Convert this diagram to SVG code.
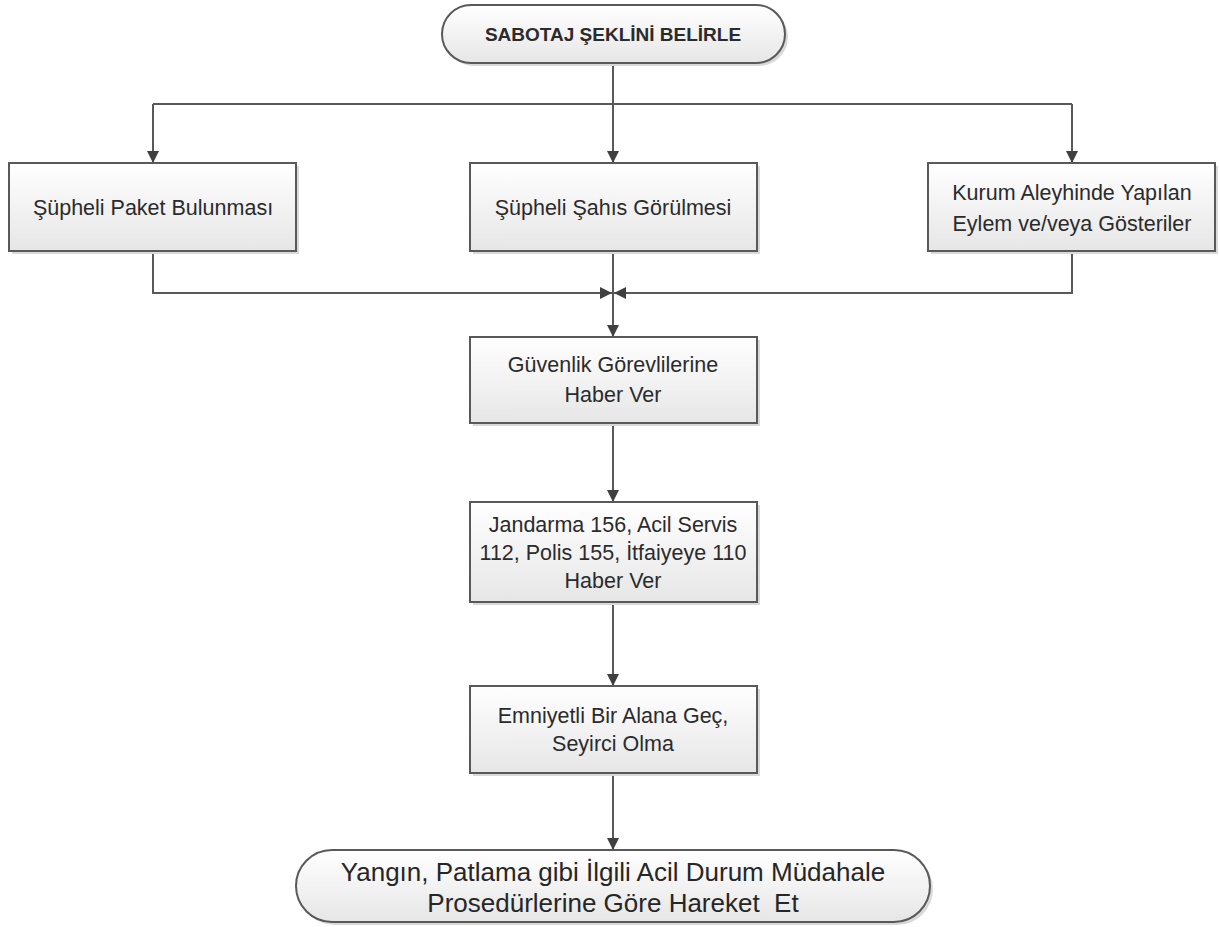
<svg xmlns="http://www.w3.org/2000/svg" width="1220" height="927" viewBox="0 0 1220 927">
<style>
.box{fill:url(#g);stroke:#595959;stroke-width:2}
.sh{fill:#d9d9d9}
.t{font-family:"Liberation Sans",Arial,sans-serif;font-size:21.5px;fill:#2b2b2b;text-anchor:middle}
.tb{font-family:"Liberation Sans",Arial,sans-serif;font-size:19px;font-weight:bold;fill:#2b2b2b;text-anchor:middle}
.tl{font-family:"Liberation Sans",Arial,sans-serif;font-size:26px;fill:#262626;text-anchor:middle}
.c{fill:none;stroke:#595959;stroke-width:2}
</style>
<defs>
<linearGradient id="g" x1="0" y1="0" x2="0" y2="1">
<stop offset="0" stop-color="#ffffff"/>
<stop offset="1" stop-color="#e6e6e6"/>
</linearGradient>
<marker id="a" viewBox="0 0 12 12" refX="12" refY="6" markerWidth="12" markerHeight="12" markerUnits="userSpaceOnUse" orient="auto">
<path d="M0,0 L12,6 L0,12 Z" fill="#404040"/>
</marker>
</defs>
<rect width="1220" height="927" fill="#fff"/>
<g id="connectors">
<path class="c" d="M613,63 V104"/>
<path class="c" d="M153,104 H1072"/>
<path class="c" d="M153,104 V163" marker-end="url(#a)"/>
<path class="c" d="M613,104 V163" marker-end="url(#a)"/>
<path class="c" d="M1072,104 V163" marker-end="url(#a)"/>
<path class="c" d="M153,251 V293 H612" marker-end="url(#a)"/>
<path class="c" d="M1072,251 V293 H614" marker-end="url(#a)"/>
<path class="c" d="M613,251 V337" marker-end="url(#a)"/>
<path class="c" d="M613,423 V502" marker-end="url(#a)"/>
<path class="c" d="M613,602 V686" marker-end="url(#a)"/>
<path class="c" d="M613,773 V850" marker-end="url(#a)"/>
</g>
<g id="start">
<rect class="sh" x="445" y="8" width="343" height="58" rx="29"/>
<rect class="box" x="442" y="5" width="343" height="58" rx="29"/>
<text class="tb" x="613" y="41">SABOTAJ ŞEKLİNİ BELİRLE</text>
</g>
<g id="paket">
<rect class="sh" x="12" y="166" width="287" height="88"/>
<rect class="box" x="9" y="163" width="287" height="88"/>
<text class="t" x="153" y="215">Şüpheli Paket Bulunması</text>
</g>
<g id="sahis">
<rect class="sh" x="473" y="166" width="287" height="88"/>
<rect class="box" x="470" y="163" width="287" height="88"/>
<text class="t" x="613" y="215">Şüpheli Şahıs Görülmesi</text>
</g>
<g id="eylem">
<rect class="sh" x="931" y="166" width="287" height="88"/>
<rect class="box" x="928" y="163" width="287" height="88"/>
<text class="t" x="1072" y="200">Kurum Aleyhinde Yapılan</text>
<text class="t" x="1072" y="231">Eylem ve/veya Gösteriler</text>
</g>
<g id="guvenlik">
<rect class="sh" x="473" y="340" width="287" height="86"/>
<rect class="box" x="470" y="337" width="287" height="86"/>
<text class="t" x="613" y="372">Güvenlik Görevlilerine</text>
<text class="t" x="613" y="402">Haber Ver</text>
</g>
<g id="jandarma">
<rect class="sh" x="473" y="505" width="287" height="100"/>
<rect class="box" x="470" y="502" width="287" height="100"/>
<text class="t" x="613" y="532">Jandarma 156, Acil Servis</text>
<text class="t" x="613" y="560">112, Polis 155, İtfaiyeye 110</text>
<text class="t" x="613" y="588">Haber Ver</text>
</g>
<g id="emniyetli">
<rect class="sh" x="473" y="689" width="287" height="87"/>
<rect class="box" x="470" y="686" width="287" height="87"/>
<text class="t" x="613" y="723">Emniyetli Bir Alana Geç,</text>
<text class="t" x="613" y="751">Seyirci Olma</text>
</g>
<g id="end">
<rect class="sh" x="299" y="853" width="634" height="72" rx="36"/>
<rect class="box" x="296" y="850" width="634" height="72" rx="36"/>
<text class="tl" x="613" y="881">Yangın, Patlama gibi İlgili Acil Durum Müdahale</text>
<text class="tl" x="613" y="912" xml:space="preserve">Prosedürlerine Göre Hareket  Et</text>
</g>
</svg>
